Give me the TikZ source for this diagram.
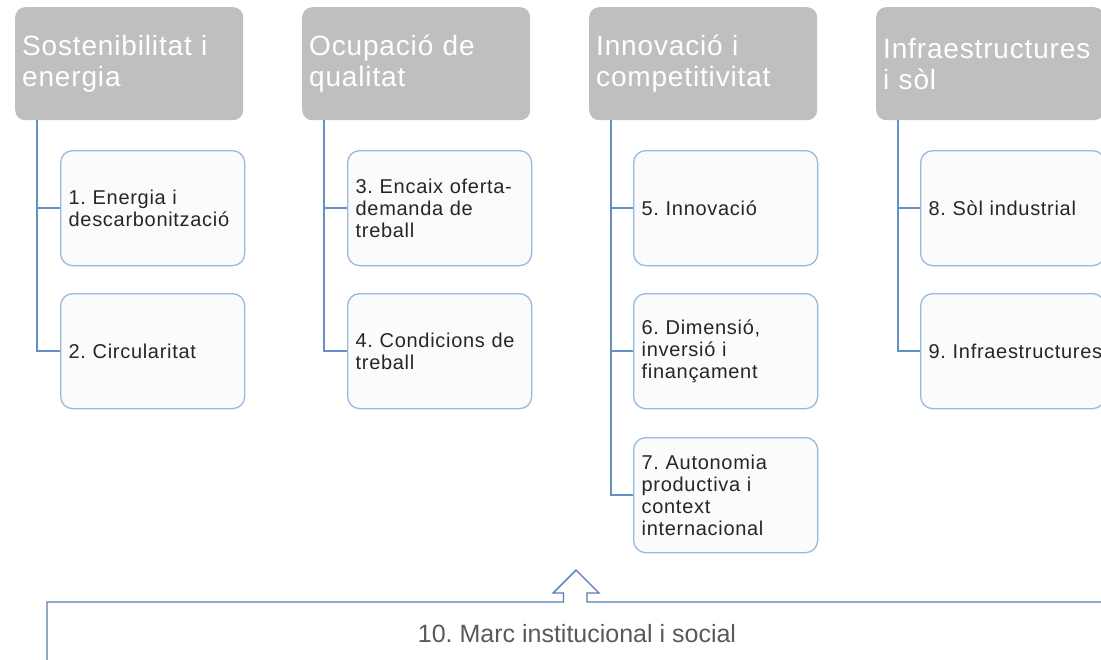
\documentclass[tikz,border=0pt]{standalone}
\usepackage{fontspec}
\setmainfont{Liberation Sans}
\newfontfamily\hdrfont[LetterSpace=3]{Liberation Sans}
\newfontfamily\kidfont[LetterSpace=3.5]{Liberation Sans}
\definecolor{hdrgray}{HTML}{BFBFBF}
\definecolor{kidfill}{HTML}{FBFBFB}
\definecolor{kidline}{HTML}{95B9E1}
\definecolor{connline}{HTML}{6590C3}
\definecolor{baseline}{HTML}{557CAA}
\definecolor{kidtext}{HTML}{262626}
\definecolor{basetext}{HTML}{595959}
\frenchspacing
\tikzset{
  hdr/.style={anchor=north west, fill=hdrgray, draw=none, rounded corners=10pt,
    minimum width=228pt, minimum height=113pt, text width=214pt, inner xsep=7pt,
    align=left, text=white, font=\hdrfont\fontsize{28}{31}\selectfont},
  kid/.style={anchor=north west, fill=kidfill, draw=kidline, line width=1.3pt,
    rounded corners=12pt, minimum width=184pt, minimum height=115pt,
    text width=168pt, inner xsep=8pt, align=left, text=kidtext,
    font=\kidfont\fontsize{20}{22}\selectfont\frenchspacing},
  conn/.style={draw=connline, line width=1.5pt},
  basebox/.style={draw=baseline, line width=1.4pt, line join=miter},
}
\begin{document}
\begin{tikzpicture}[x=1pt,y=-1pt]
\useasboundingbox (0,0) rectangle (1101,659);
\clip (0,0) rectangle (1101,659);
% headers
\node[hdr] (h1) at (15,7) {Sostenibilitat i\\energia};
\node[hdr] (h2) at (302,7) {Ocupació de\\qualitat};
\node[hdr] (h3) at (589,7) {Innovació i\\competitivitat};
\node[hdr] (h4) at (876,7) {\hbox{Infraestructures}\\i sòl};
% children
\node[kid] (c1) at (60,150) {1. Energia i\\descarbonització};
\node[kid] (c2) at (60,293) {2. Circularitat};
\node[kid] (c3) at (347,150) {3. Encaix oferta-\\demanda de\\treball};
\node[kid] (c4) at (347,293) {4. Condicions de\\treball};
\node[kid] (c5) at (633,150) {5. Innovació};
\node[kid] (c6) at (633,293) {6. Dimensió,\\inversió i\\finançament};
\node[kid] (c7) at (633,437) {7. Autonomia\\productiva i\\context\\internacional};
\node[kid] (c8) at (920,150) {8. Sòl industrial};
\node[kid] (c9) at (920,293) {\hbox{9. Infraestructures}};
% connectors
\coordinate (t1) at ([xshift=22pt]h1.south west);
\coordinate (t2) at ([xshift=22pt]h2.south west);
\coordinate (t3) at ([xshift=22pt]h3.south west);
\coordinate (t4) at ([xshift=22pt]h4.south west);
\draw[conn] (t1) |- (c1.west);
\draw[conn] (t1) |- (c2.west);
\draw[conn] (t2) |- (c3.west);
\draw[conn] (t2) |- (c4.west);
\draw[conn] (t3) |- (c5.west);
\draw[conn] (t3) |- (c6.west);
\draw[conn] (t3) |- (c7.west);
\draw[conn] (t4) |- (c8.west);
\draw[conn] (t4) |- (c9.west);
% bottom frame with up arrow
\draw[basebox] (47,670) -- (47,602) -- (563.5,602) -- (563.5,593) -- (553,593)
  -- (576,570) -- (599,593) -- (587,593) -- (587,602) -- (1115,602);
\node[anchor=base, text=basetext, font=\fontsize{25}{28}\selectfont, inner sep=0pt]
  (m10) at (577,642) {10. Marc institucional i social};
\end{tikzpicture}
\end{document}
